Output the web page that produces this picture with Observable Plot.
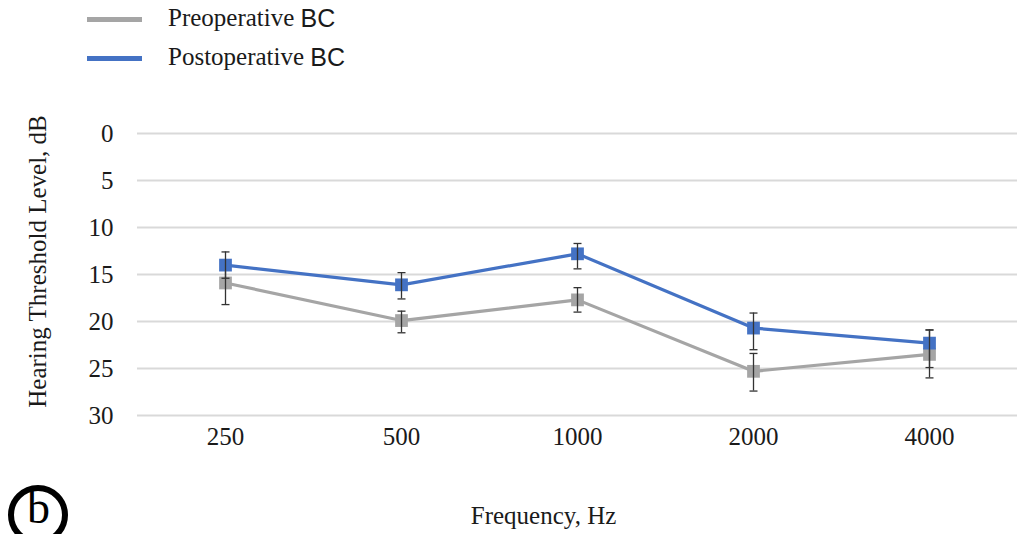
<!DOCTYPE html>
<html>
<head>
<meta charset="utf-8">
<script src="https://cdn.jsdelivr.net/npm/d3@7"></script>
<script src="https://cdn.jsdelivr.net/npm/@observablehq/plot@0.6"></script>
<style>
  html, body { margin: 0; padding: 0; background: #fff; }
  #wrap { position: relative; width: 1017px; height: 534px; overflow: hidden; }
  .leg { position: absolute; left: 87px; display: flex; align-items: center; font-size: 25px; color: #1a1a1a; white-space: nowrap; }
  .leg .sw { width: 55px; height: 5px; margin-right: 26px; margin-top: 3px; }
  .leg .serif { font-family: "Liberation Serif", "DejaVu Serif", serif; }
  .leg .sans { font-family: "Liberation Sans", Arial, sans-serif; }
  #ring { position: absolute; left: 8px; top: 485px; width: 60px; height: 60px; border: 6px solid #000; border-radius: 50%; box-sizing: border-box; }
  #letter { position: absolute; left: 27px; top: 483px; font-family: "Liberation Serif", serif; font-size: 46px; line-height: 1.107; color: #000; }
</style>
</head>
<body>
<div id="wrap"></div>
<script>
const frequencies = ["250", "500", "1000", "2000", "4000"];
const seriesNames = ["Preoperative BC", "Postoperative BC"];
const preValues  = [15.9, 19.9, 17.7, 25.3, 23.5];
const preLow     = [13.7, 18.9, 16.4, 23.4, 20.9];
const preHigh    = [18.2, 21.2, 19.0, 27.4, 26.0];
const postValues = [14.0, 16.1, 12.8, 20.7, 22.3];
const postLow    = [12.6, 14.8, 11.7, 19.1, 20.9];
const postHigh   = [15.4, 17.6, 14.4, 23.0, 24.9];
const yTicks = [0, 5, 10, 15, 20, 25, 30];
const colors = ["#A5A5A5", "#4472C4"];
const xTitle = "Frequency, Hz";
const yTitle = "Hearing Threshold Level, dB";

const pre = frequencies.map((f, i) => ({freq: f, series: seriesNames[0], v: preValues[i], lo: preLow[i], hi: preHigh[i]}));
const post = frequencies.map((f, i) => ({freq: f, series: seriesNames[1], v: postValues[i], lo: postLow[i], hi: postHigh[i]}));

const cap = { draw(context) { context.moveTo(-4, 0); context.lineTo(4, 0); } };
const serif = "'Liberation Serif', 'DejaVu Serif', serif";

function seriesMarks(data, color) {
  return [
    Plot.line(data, {x: "freq", y: "v", stroke: color, strokeWidth: 3.2}),
    Plot.dot(data, {x: "freq", y: "v", symbol: "square", r: 7.2, fill: color, stroke: "none"}),
    Plot.ruleX(data, {x: "freq", y1: "lo", y2: "hi", stroke: "#333", strokeWidth: 1.3}),
    Plot.dot(data, {x: "freq", y: "lo", symbol: cap, stroke: "#333", strokeWidth: 1.3, fill: "none"}),
    Plot.dot(data, {x: "freq", y: "hi", symbol: cap, stroke: "#333", strokeWidth: 1.3, fill: "none"})
  ];
}

const chart = Plot.plot({
  width: 1017,
  height: 534,
  marginTop: 133,
  marginBottom: 119,
  marginLeft: 137,
  marginRight: 0,
  style: {fontFamily: serif, fontSize: "25px", color: "#1a1a1a", background: "transparent", overflow: "visible"},
  x: {type: "point", domain: frequencies, padding: 0.5, label: null, tickSize: 0, tickPadding: 12},
  y: {domain: [0, 30], reverse: true, ticks: yTicks, tickSize: 0, tickPadding: 24, label: null},
  marks: [
    Plot.gridY(yTicks, {stroke: "#d9d9d9", strokeOpacity: 1, strokeWidth: 2}),
    ...seriesMarks(pre, colors[0]),
    ...seriesMarks(post, colors[1]),
    Plot.text([xTitle], {frameAnchor: "bottom", textAnchor: "middle", dx: -34, dy: 108, fontSize: 25, fill: "#1a1a1a"}),
    Plot.text([yTitle], {frameAnchor: "left", textAnchor: "middle", rotate: -90, dx: -100, dy: -13, fontSize: 25, fill: "#1a1a1a"})
  ]
});

const wrap = document.getElementById("wrap");
chart.style.position = "absolute";
chart.style.left = "0";
chart.style.top = "0";
wrap.appendChild(chart);

seriesNames.forEach((name, i) => {
  const d = document.createElement("div");
  d.className = "leg";
  d.style.top = (i === 0 ? 3.5 : 42.5) + "px";
  const parts = name.split(" ");
  d.innerHTML = `<span class="sw" style="background:${colors[i]}"></span><span class="serif">${parts[0]}&nbsp;</span><span class="sans">${parts[1]}</span>`;
  wrap.appendChild(d);
});

const ring = document.createElement("div");
ring.id = "ring";
wrap.appendChild(ring);
const letter = document.createElement("div");
letter.id = "letter";
letter.textContent = "b";
wrap.appendChild(letter);
</script>
</body>
</html>
